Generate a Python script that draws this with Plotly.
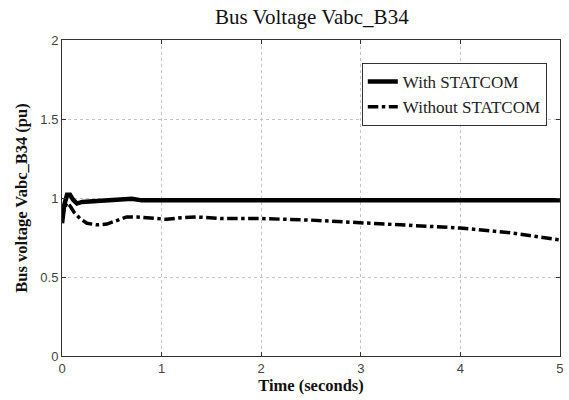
import plotly.graph_objects as go

t_with = [0.0, 0.02, 0.05, 0.08, 0.11, 0.15, 0.2, 0.3, 0.45, 0.6, 0.7, 0.8, 1.0, 1.3, 1.6, 2.0, 3.0, 4.0, 5.0]
v_with = [0.84, 0.95, 1.02, 1.02, 0.99, 0.965, 0.975, 0.98, 0.985, 0.99, 0.995, 0.985, 0.985, 0.99, 0.985, 0.985, 0.985, 0.985, 0.985]

t_without = [0.0, 0.02, 0.05, 0.08, 0.12, 0.18, 0.25, 0.35, 0.45, 0.55, 0.65, 0.75, 0.9, 1.05, 1.2, 1.35, 1.6, 2.0, 2.5, 3.0, 3.5, 4.0, 4.5, 5.0]
v_without = [0.86, 0.93, 0.97, 0.95, 0.91, 0.87, 0.84, 0.83, 0.835, 0.86, 0.88, 0.88, 0.87, 0.865, 0.875, 0.88, 0.87, 0.87, 0.86, 0.845, 0.83, 0.81, 0.78, 0.735]

x_ticks = [0, 1, 2, 3, 4, 5]
y_ticks = [0, 0.5, 1, 1.5, 2]

serif = "Liberation Serif, Times New Roman, serif"
sans = "Liberation Sans, Arial, sans-serif"

fig = go.Figure()
fig.add_trace(go.Scatter(x=t_with, y=v_with, mode="lines", name="With STATCOM",
                         line=dict(color="black", width=4.5)))
fig.add_trace(go.Scatter(x=t_without, y=v_without, mode="lines", name="Without STATCOM",
                         line=dict(color="black", width=3.5, dash="dashdot")))

axis_common = dict(showline=True, linecolor="#333", linewidth=1, mirror="ticks",
                   ticks="inside", ticklen=4, tickcolor="#333", automargin=False,
                   showgrid=True, gridcolor="#c4c4c4", griddash="dot", gridwidth=1,
                   zeroline=False, tickfont=dict(family=sans, size=13, color="#444"))

fig.update_layout(
    width=569, height=400,
    margin=dict(l=62, r=9, t=40, b=44),
    paper_bgcolor="white", plot_bgcolor="white",
    title=dict(text="Bus Voltage Vabc_B34", x=0.548, xanchor="center", y=0.958, yanchor="middle",
               font=dict(family=serif, size=21, color="#111"), automargin=False),
    xaxis=dict(range=[-0.0005, 5.0005], tickvals=x_ticks,
               title=dict(text="<b>Time (seconds)</b>", font=dict(family=serif, size=16.5, color="#111"), standoff=0),
               **axis_common),
    yaxis=dict(range=[0, 2], tickvals=y_ticks, ticktext=["0", "0.5", "1", "1.5", "2"],
               title=dict(text="<b>Bus voltage Vabc_B34 (pu)</b>", font=dict(family=serif, size=16.5, color="#111"), standoff=8),
               **axis_common),
    legend=dict(x=0.602, y=0.927, xanchor="left", yanchor="top",
                bgcolor="white", bordercolor="#333", borderwidth=1,
                font=dict(family=serif, size=17, color="#222"),
                tracegroupgap=0, itemwidth=30),
    showlegend=True,
)

fig.write_html("out.html", config={"displayModeBar": False},
               post_script="document.body.style.margin='0';")
